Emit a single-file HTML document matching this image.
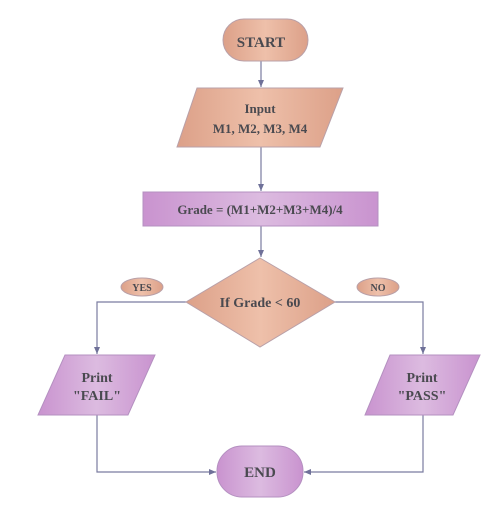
<!DOCTYPE html>
<html><head><style>body{margin:0;background:#fff}svg{display:block}</style></head><body>
<svg width="489" height="520" viewBox="0 0 489 520" xmlns="http://www.w3.org/2000/svg">
<defs>
<linearGradient id="pe" x1="0" x2="1"><stop offset="0" stop-color="#dca088"/><stop offset=".5" stop-color="#eec0aa"/><stop offset="1" stop-color="#dca088"/></linearGradient>
<linearGradient id="pu" x1="0" x2="1"><stop offset="0" stop-color="#c993cf"/><stop offset=".5" stop-color="#dcbbe0"/><stop offset="1" stop-color="#c993cf"/></linearGradient>
<marker id="a" markerWidth="8" markerHeight="8" refX="7" refY="4" orient="auto" markerUnits="userSpaceOnUse"><path d="M0,1 L7,4 L0,7 z" fill="#6f7199"/></marker>
</defs>
<g stroke="#7a7ca0" stroke-width="1.2" fill="none">
<line x1="261" y1="61" x2="261" y2="87" marker-end="url(#a)"/>
<line x1="261" y1="147" x2="261" y2="191" marker-end="url(#a)"/>
<line x1="261" y1="226" x2="261" y2="257" marker-end="url(#a)"/>
<polyline points="186,302 97,302 97,354" marker-end="url(#a)"/>
<polyline points="335,302 423,302 423,354" marker-end="url(#a)"/>
<polyline points="97,415 97,472 216,472" marker-end="url(#a)"/>
<polyline points="423,415 423,472 304,472" marker-end="url(#a)"/>
</g>
<g stroke="#b9a0a8" stroke-width="1">
<rect x="223" y="19" width="85" height="42" rx="21" fill="url(#pe)"/>
<polygon points="197,88 343,88 320,147 177,147" fill="url(#pe)"/>
<rect x="143" y="192" width="235" height="34" fill="url(#pu)" stroke="#b490c0"/>
<polygon points="260,258 335,302 260,347 186,302" fill="url(#pe)"/>
<ellipse cx="142" cy="287" rx="21" ry="9" fill="url(#pe)"/>
<ellipse cx="378" cy="287" rx="21" ry="9" fill="url(#pe)"/>
<polygon points="65,355 155,355 128,415 38,415" fill="url(#pu)" stroke="#b490c0"/>
<polygon points="390,355 480,355 453,415 365,415" fill="url(#pu)" stroke="#b490c0"/>
<rect x="217" y="446" width="86" height="51" rx="25" fill="url(#pu)" stroke="#b490c0"/>
</g>
<g font-family="Liberation Serif, serif" font-weight="bold" fill="#4a4a50" text-anchor="middle">
<text x="261" y="47" font-size="15">START</text>
<text x="260" y="113" font-size="13">Input</text>
<text x="260" y="133" font-size="13">M1, M2, M3, M4</text>
<text x="260" y="214" font-size="13">Grade = (M1+M2+M3+M4)/4</text>
<text x="260" y="307" font-size="14">If Grade  &lt; 60</text>
<text x="142" y="291" font-size="10">YES</text>
<text x="378" y="291" font-size="10">NO</text>
<text x="97" y="382" font-size="14">Print</text>
<text x="97" y="400" font-size="14">"FAIL"</text>
<text x="422" y="382" font-size="14">Print</text>
<text x="422" y="400" font-size="14">"PASS"</text>
<text x="260" y="477" font-size="15">END</text>
</g>
</svg>
</body></html>
